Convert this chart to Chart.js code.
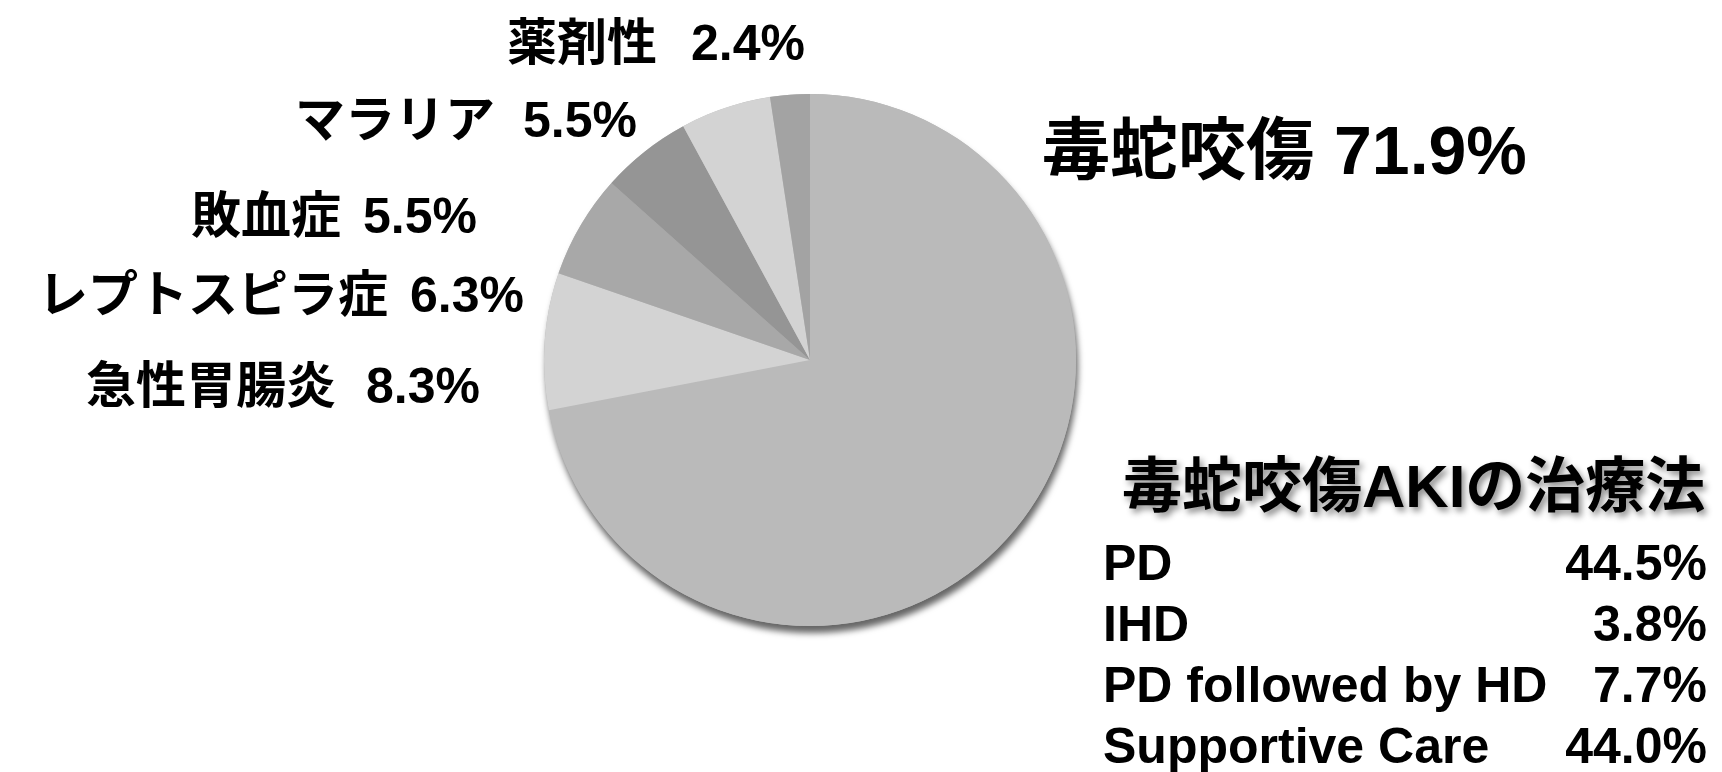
<!DOCTYPE html>
<html>
<head>
<meta charset="utf-8">
<script src="https://cdn.jsdelivr.net/npm/chart.js@4/dist/chart.umd.min.js"></script>
<style>
  body { margin: 0; background: #fff; }
  canvas { display: block; }
</style>
</head>
<body>
<canvas id="myChart" width="1722" height="772"></canvas>
<script>
let causes = ['毒蛇咬傷', '急性胃腸炎', 'レプトスピラ症', '敗血症', 'マラリア', '薬剤性'];
let causeShare = [71.9, 8.3, 6.3, 5.5, 5.5, 2.4];
let sliceColors = ['#bababa', '#d3d3d3', '#a8a8a8', '#959595', '#d3d3d3', '#a3a3a3'];

let treatmentTitle = '毒蛇咬傷AKIの治療法';
let treatments = ['PD', 'IHD', 'PD followed by HD', 'Supportive Care'];
let treatmentShare = [44.5, 3.8, 7.7, 44.0];

// where each cause label sits: [x, baseline, align, font size, gap]
let labelSpots = [
  [1042, 174, 'left', 68, 20],
  [480, 403, 'right', 50, 30],
  [524, 312, 'right', 50, 22],
  [477, 233, 'right', 50, 22],
  [637, 137, 'right', 50, 28],
  [805, 60, 'right', 50, 34],
];

const LATIN = '"Liberation Sans", Arial, sans-serif';
const CJK = '"Noto Sans CJK JP", sans-serif';

// soft drop shadow under the whole pie
const pieShadow = {
  id: 'pieShadow',
  beforeDatasetsDraw(chart) {
    let arc = chart.getDatasetMeta(0).data[0];
    if (!arc) return;
    let ctx = chart.ctx;
    ctx.save();
    ctx.shadowColor = 'rgba(0, 0, 0, 0.6)';
    ctx.shadowBlur = 6;
    ctx.shadowOffsetX = 2;
    ctx.shadowOffsetY = 7;
    ctx.beginPath();
    ctx.arc(arc.x, arc.y, arc.outerRadius, 0, Math.PI * 2);
    ctx.fillStyle = '#bababa';
    ctx.fill();
    ctx.restore();
  },
};

// name in Japanese gothic, value in bold sans
const causeLabels = {
  id: 'causeLabels',
  afterDraw(chart) {
    let ctx = chart.ctx;
    ctx.save();
    ctx.fillStyle = '#000';
    ctx.textBaseline = 'alphabetic';
    causes.forEach((name, i) => {
      let [x, y, align, size, gap] = labelSpots[i];
      let value = causeShare[i].toFixed(1) + '%';
      let nameFont = 'bold ' + size + 'px ' + CJK;
      let valueFont = 'bold ' + size + 'px ' + LATIN;
      ctx.font = nameFont;
      let nameW = ctx.measureText(name).width;
      ctx.font = valueFont;
      let valueW = ctx.measureText(value).width;
      let left = align === 'left' ? x : x - valueW - gap - nameW;
      ctx.textAlign = 'left';
      ctx.font = nameFont;
      ctx.fillText(name, left, y);
      ctx.font = valueFont;
      ctx.fillText(value, left + nameW + gap, y);
    });
    ctx.restore();
  },
};

const treatmentTable = {
  id: 'treatmentTable',
  afterDraw(chart) {
    let ctx = chart.ctx;
    ctx.save();
    ctx.fillStyle = '#000';
    ctx.font = 'bold 60px "Liberation Sans", ' + CJK;
    ctx.textAlign = 'left';
    ctx.shadowColor = 'rgba(0, 0, 0, 0.45)';
    ctx.shadowBlur = 6;
    ctx.shadowOffsetX = 3;
    ctx.shadowOffsetY = 4;
    ctx.fillText(treatmentTitle, 1122, 507);
    ctx.shadowColor = 'transparent';

    ctx.font = 'bold 50px ' + LATIN;
    treatments.forEach((t, i) => {
      let y = 580 + i * 61;
      ctx.textAlign = 'left';
      ctx.fillText(t, 1103, y);
      ctx.textAlign = 'right';
      ctx.fillText(treatmentShare[i].toFixed(1) + '%', 1707, y);
    });
    ctx.restore();
  },
};

let ctx = document.getElementById('myChart').getContext('2d');
let myChart = new Chart(ctx, {
  type: 'pie',
  data: {
    labels: causes,
    datasets: [
      {
        data: causeShare,
        backgroundColor: sliceColors,
        borderWidth: 0,
      },
    ],
  },
  options: {
    responsive: false,
    animation: false,
    layout: {
      padding: { left: 544, right: 646, top: 94, bottom: 146 },
    },
    plugins: {
      legend: { display: false },
      tooltip: { enabled: false },
    },
  },
  plugins: [pieShadow, causeLabels, treatmentTable],
});
</script>
</body>
</html>
